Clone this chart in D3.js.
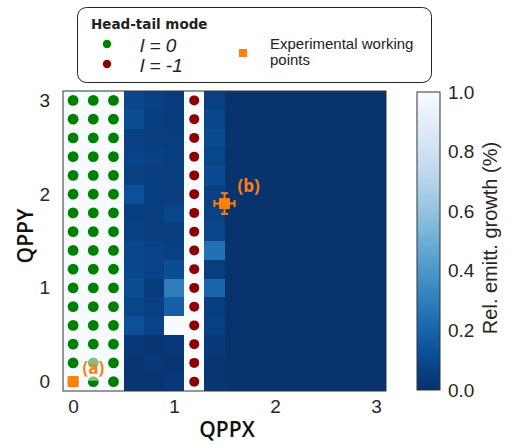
<!DOCTYPE html>
<html>
<head>
<meta charset="utf-8">
<script src="https://cdnjs.cloudflare.com/ajax/libs/d3/7.8.5/d3.min.js"></script>
<style>
  body { margin: 0; background: #fff; }
  svg { display: block; }
</style>
</head>
<body>
<div id="chart"></div>
<script>
var width = 508;
var height = 445;

// grid of scanned chromaticities
var qppx = [0, 0.2, 0.4, 0.6, 0.8, 1.0, 1.2, 1.4, 1.6, 1.8, 2.0, 2.2, 2.4, 2.6, 2.8, 3.0];
var qppy = [0, 0.2, 0.4, 0.6, 0.8, 1.0, 1.2, 1.4, 1.6, 1.8, 2.0, 2.2, 2.4, 2.6, 2.8, 3.0];

// relative emittance growth, one row per qppy (from 0 up to 3.0), one value per qppx
var growth = [
  [1, 1, 1, 0.02, 0.02, 0.03, 1, 0.02, 0.01, 0.01, 0.01, 0.01, 0.01, 0.01, 0.01, 0.01],
  [1, 1, 1, 0.02, 0.03, 0.02, 1, 0.02, 0.01, 0.01, 0.01, 0.01, 0.01, 0.01, 0.01, 0.01],
  [1, 1, 1, 0.03, 0.02, 0.03, 1, 0.03, 0.01, 0.01, 0.01, 0.01, 0.01, 0.01, 0.01, 0.01],
  [1, 1, 1, 0.12, 0.07, 1.00, 1, 0.06, 0.01, 0.01, 0.01, 0.01, 0.01, 0.01, 0.01, 0.01],
  [1, 1, 1, 0.08, 0.06, 0.18, 1, 0.05, 0.01, 0.01, 0.01, 0.01, 0.01, 0.01, 0.01, 0.01],
  [1, 1, 1, 0.11, 0.04, 0.30, 1, 0.20, 0.01, 0.01, 0.01, 0.01, 0.01, 0.01, 0.01, 0.01],
  [1, 1, 1, 0.09, 0.07, 0.11, 1, 0.05, 0.01, 0.01, 0.01, 0.01, 0.01, 0.01, 0.01, 0.01],
  [1, 1, 1, 0.09, 0.07, 0.06, 1, 0.25, 0.01, 0.01, 0.01, 0.01, 0.01, 0.01, 0.01, 0.01],
  [1, 1, 1, 0.06, 0.05, 0.05, 1, 0.08, 0.01, 0.01, 0.01, 0.01, 0.01, 0.01, 0.01, 0.01],
  [1, 1, 1, 0.05, 0.05, 0.08, 1, 0.07, 0.01, 0.01, 0.01, 0.01, 0.01, 0.01, 0.01, 0.01],
  [1, 1, 1, 0.12, 0.05, 0.05, 1, 0.06, 0.01, 0.01, 0.01, 0.01, 0.01, 0.01, 0.01, 0.01],
  [1, 1, 1, 0.06, 0.05, 0.05, 1, 0.10, 0.01, 0.01, 0.01, 0.01, 0.01, 0.01, 0.01, 0.01],
  [1, 1, 1, 0.07, 0.06, 0.05, 1, 0.08, 0.01, 0.01, 0.01, 0.01, 0.01, 0.01, 0.01, 0.01],
  [1, 1, 1, 0.06, 0.05, 0.05, 1, 0.10, 0.01, 0.01, 0.01, 0.01, 0.01, 0.01, 0.01, 0.01],
  [1, 1, 1, 0.11, 0.05, 0.04, 1, 0.08, 0.01, 0.01, 0.01, 0.01, 0.01, 0.01, 0.01, 0.01],
  [1, 1, 1, 0.09, 0.06, 0.04, 1, 0.06, 0.01, 0.01, 0.01, 0.01, 0.01, 0.01, 0.01, 0.01]
];

// qppx columns where each head-tail mode is found (all qppy rows)
var modeZeroX = [0, 0.2, 0.4];
var modeMinusOneX = [1.2];

// experimental working points
var workX = [0, 1.5];
var workY = [0, 1.9];
var workErrX = [0, 0.1];
var workErrY = [0, 0.11];
var workLabels = ["(a)", "(b)"];

var axisTicks = [0, 1, 2, 3];
var colorTicks = [0, 0.2, 0.4, 0.6, 0.8, 1.0];

var orange = "#ff7f0e";
var green = "#008000";
var darkred = "#8b0000";

var margin = { left: 63, right: 386, top: 91, bottom: 391 };
var bar = { left: 417, right: 440, top: 92, bottom: 390 };

function createSVG() {
  return d3.select("#chart")
    .append("svg")
    .attr("width", width)
    .attr("height", height);
}

function drawHeatmap(svg, x, y, color) {
  var cells = [];
  growth.forEach(function(row, i) {
    row.forEach(function(v, j) {
      cells.push({ x: qppx[j], y: qppy[i], v: v });
    });
  });
  var cw = x(0.2) - x(0);
  var ch = y(0) - y(0.2);
  svg.append("g")
    .attr("shape-rendering", "crispEdges")
    .selectAll("rect")
    .data(cells)
    .enter()
    .append("rect")
    .attr("x", function(d) { return Math.round(x(d.x) - cw / 2); })
    .attr("y", function(d) { return Math.round(y(d.y) - ch / 2); })
    .attr("width", function(d) { return Math.round(x(d.x) + cw / 2) - Math.round(x(d.x) - cw / 2); })
    .attr("height", function(d) { return Math.round(y(d.y) + ch / 2) - Math.round(y(d.y) - ch / 2); })
    .attr("fill", function(d) { return color(d.v); });
}

function drawModes(svg, x, y) {
  var pts0 = [];
  modeZeroX.forEach(function(px) {
    qppy.forEach(function(py) { pts0.push([px, py]); });
  });
  var pts1 = [];
  modeMinusOneX.forEach(function(px) {
    qppy.forEach(function(py) { pts1.push([px, py]); });
  });
  svg.append("g").selectAll("circle")
    .data(pts0).enter().append("circle")
    .attr("cx", function(d) { return x(d[0]); })
    .attr("cy", function(d) { return y(d[1]); })
    .attr("r", 5.4)
    .attr("fill", green);
  svg.append("g").selectAll("circle")
    .data(pts1).enter().append("circle")
    .attr("cx", function(d) { return x(d[0]); })
    .attr("cy", function(d) { return y(d[1]); })
    .attr("r", 5)
    .attr("fill", darkred);
}

function drawWorkingPoints(svg, x, y) {
  var pts = workX.map(function(v, i) {
    return { x: v, y: workY[i], ex: workErrX[i], ey: workErrY[i], label: workLabels[i] };
  });
  var g = svg.append("g");
  pts.forEach(function(d) {
    if (d.ex > 0) {
      g.append("line")
        .attr("x1", x(d.x - d.ex)).attr("x2", x(d.x + d.ex))
        .attr("y1", y(d.y)).attr("y2", y(d.y))
        .attr("stroke", orange).attr("stroke-width", 2);
      g.selectAll(null).data([d.x - d.ex, d.x + d.ex]).enter().append("line")
        .attr("x1", function(v) { return x(v); }).attr("x2", function(v) { return x(v); })
        .attr("y1", y(d.y) - 3.5).attr("y2", y(d.y) + 3.5)
        .attr("stroke", orange).attr("stroke-width", 2);
    }
    if (d.ey > 0) {
      g.append("line")
        .attr("x1", x(d.x)).attr("x2", x(d.x))
        .attr("y1", y(d.y - d.ey)).attr("y2", y(d.y + d.ey))
        .attr("stroke", orange).attr("stroke-width", 2);
      g.selectAll(null).data([d.y - d.ey, d.y + d.ey]).enter().append("line")
        .attr("x1", x(d.x) - 3.5).attr("x2", x(d.x) + 3.5)
        .attr("y1", function(v) { return y(v); }).attr("y2", function(v) { return y(v); })
        .attr("stroke", orange).attr("stroke-width", 2);
    }
    g.append("rect")
      .attr("x", x(d.x) - 5.5).attr("y", y(d.y) - 5.5)
      .attr("width", 11).attr("height", 11)
      .attr("fill", orange);
  });

  // labels, (a) sits on a faint white box
  g.append("rect")
    .attr("x", x(0.1)).attr("y", y(0.27))
    .attr("width", x(0.3) - x(0.1)).attr("height", y(0.01) - y(0.27))
    .attr("rx", 3)
    .attr("fill", "#fff").attr("fill-opacity", 0.5);
  g.append("text")
    .attr("x", x(0.2)).attr("y", y(0.15))
    .attr("text-anchor", "middle")
    .attr("dominant-baseline", "central")
    .style("font-family", "'Open Sans', sans-serif")
    .style("font-weight", 700)
    .style("font-size", "17px")
    .attr("fill", orange)
    .text(pts[0].label);
  g.append("text")
    .attr("x", x(1.74)).attr("y", y(2.09))
    .attr("text-anchor", "middle")
    .attr("dominant-baseline", "central")
    .style("font-family", "'Open Sans', sans-serif")
    .style("font-weight", 700)
    .style("font-size", "17px")
    .attr("fill", orange)
    .text(pts[1].label);
}

function drawAxes(svg, x, y) {
  svg.append("rect")
    .attr("x", margin.left).attr("y", margin.top)
    .attr("width", margin.right - margin.left)
    .attr("height", margin.bottom - margin.top)
    .attr("fill", "none").attr("stroke", "#333").attr("stroke-width", 1);

  var xAxis = svg.append("g")
    .attr("transform", "translate(0," + margin.bottom + ")")
    .call(d3.axisBottom(x).tickValues(axisTicks).tickSize(0).tickPadding(9).tickFormat(d3.format("d")));
  var yAxis = svg.append("g")
    .attr("transform", "translate(" + margin.left + ",0)")
    .call(d3.axisLeft(y).tickValues(axisTicks).tickSize(0).tickPadding(13).tickFormat(d3.format("d")));
  [xAxis, yAxis].forEach(function(a) {
    a.select(".domain").remove();
    a.selectAll("text")
      .style("font-family", "'Liberation Sans', Arial, sans-serif")
      .style("font-size", "19px")
      .attr("fill", "#262626");
  });

  svg.append("text")
    .attr("x", 227).attr("y", 437)
    .attr("text-anchor", "middle")
    .style("font-family", "'Open Sans', sans-serif")
    .style("font-weight", 600)
    .style("font-size", "21px")
    .attr("fill", "#111")
    .text("QPPX");
  svg.append("text")
    .attr("transform", "translate(33,236) rotate(-90)")
    .attr("text-anchor", "middle")
    .style("font-family", "'Open Sans', sans-serif")
    .style("font-weight", 600)
    .style("font-size", "21px")
    .attr("fill", "#111")
    .text("QPPY");
}

function drawColorbar(svg, color) {
  var defs = svg.append("defs");
  var grad = defs.append("linearGradient")
    .attr("id", "cbar")
    .attr("x1", 0).attr("y1", 1).attr("x2", 0).attr("y2", 0);
  grad.selectAll("stop")
    .data(d3.range(0, 1.0001, 0.05))
    .enter().append("stop")
    .attr("offset", function(d) { return d; })
    .attr("stop-color", function(d) { return color(d); });

  svg.append("rect")
    .attr("x", bar.left).attr("y", bar.top)
    .attr("width", bar.right - bar.left).attr("height", bar.bottom - bar.top)
    .attr("fill", "url(#cbar)")
    .attr("stroke", "#333").attr("stroke-width", 1);

  var cy = d3.scaleLinear().domain([0, 1]).range([bar.bottom, bar.top]);
  var ax = svg.append("g")
    .attr("transform", "translate(" + bar.right + ",0)")
    .call(d3.axisRight(cy).tickValues(colorTicks).tickSize(0).tickPadding(8).tickFormat(d3.format(".1f")));
  ax.select(".domain").remove();
  ax.selectAll("text")
    .style("font-family", "'Liberation Sans', Arial, sans-serif")
    .style("font-size", "19px")
    .attr("fill", "#262626");

  svg.append("text")
    .attr("transform", "translate(497,238) rotate(-90)")
    .attr("text-anchor", "middle")
    .style("font-family", "'Liberation Sans', Arial, sans-serif")
    .style("font-size", "20px")
    .attr("fill", "#262626")
    .text("Rel. emitt. growth (%)");
}

function drawLegend(svg) {
  var g = svg.append("g");
  g.append("rect")
    .attr("x", 77.5).attr("y", 7.5)
    .attr("width", 354).attr("height", 75)
    .attr("rx", 9)
    .attr("fill", "#fff").attr("stroke", "#222").attr("stroke-width", 1);
  g.append("text")
    .attr("x", 91).attr("y", 29)
    .style("font-family", "'DejaVu Sans', sans-serif")
    .style("font-weight", 700)
    .style("font-size", "13.5px")
    .attr("fill", "#222")
    .text("Head-tail mode");

  var entries = [
    { color: green, label: "l = 0", y: 44 },
    { color: darkred, label: "l = -1", y: 64 }
  ];
  entries.forEach(function(e) {
    g.append("circle").attr("cx", 107).attr("cy", e.y).attr("r", 4.2).attr("fill", e.color);
    g.append("text")
      .attr("x", 140).attr("y", e.y + 8)
      .style("font-family", "'Liberation Sans', Arial, sans-serif")
      .style("font-style", "italic")
      .style("font-size", "19px")
      .attr("fill", "#222")
      .text(e.label);
  });

  g.append("rect")
    .attr("x", 239).attr("y", 49)
    .attr("width", 8).attr("height", 8)
    .attr("fill", orange);
  g.append("text")
    .attr("x", 270).attr("y", 49)
    .style("font-family", "'Liberation Sans', Arial, sans-serif")
    .style("font-size", "15px")
    .attr("fill", "#222")
    .text("Experimental working");
  g.append("text")
    .attr("x", 270).attr("y", 65)
    .style("font-family", "'Liberation Sans', Arial, sans-serif")
    .style("font-size", "15px")
    .attr("fill", "#222")
    .text("points");
}

function createChart() {
  var svg = createSVG();
  var x = d3.scaleLinear().domain([-0.1, 3.1]).range([margin.left, margin.right]);
  var y = d3.scaleLinear().domain([-0.1, 3.1]).range([margin.bottom, margin.top]);
  var color = function(v) { return d3.interpolateBlues(1 - Math.min(1, Math.max(0, v))); };

  drawHeatmap(svg, x, y, color);
  drawModes(svg, x, y);
  drawWorkingPoints(svg, x, y);
  drawAxes(svg, x, y);
  drawColorbar(svg, color);
  drawLegend(svg);
}

window.onload = function() {
  createChart();
};
</script>
</body>
</html>
